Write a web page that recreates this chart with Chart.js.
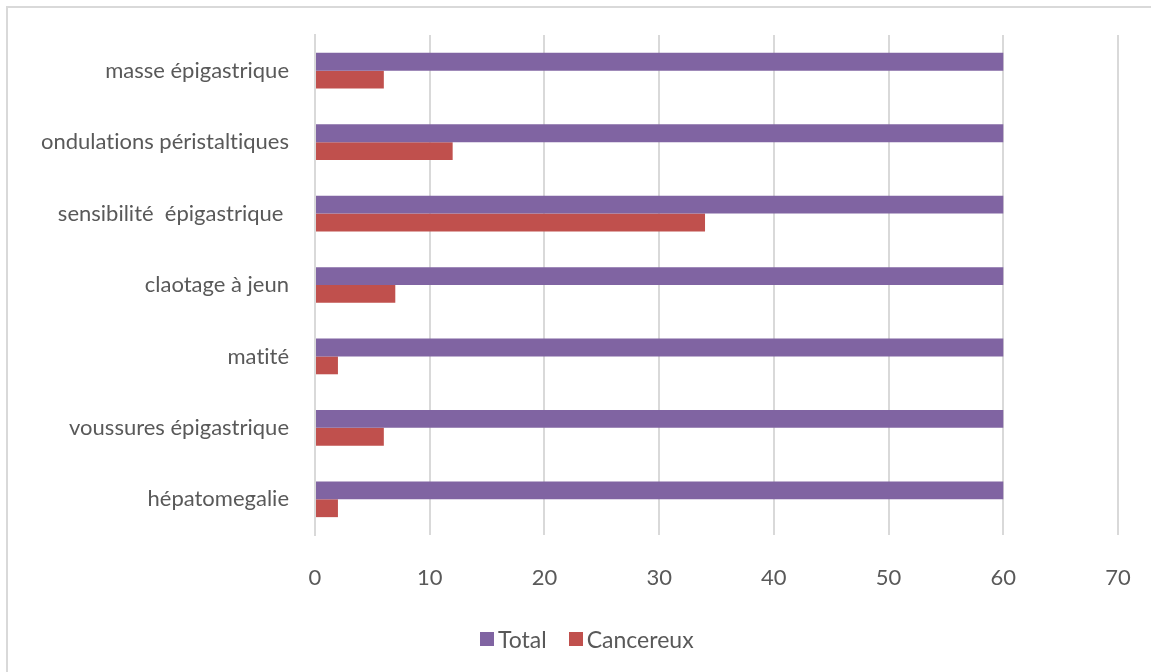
<!DOCTYPE html>
<html>
<head>
<meta charset="utf-8">
<script src="https://cdn.jsdelivr.net/npm/chart.js@4.4.1/dist/chart.umd.min.js"></script>
<style>
  html, body { margin: 0; padding: 0; background: #fff; }
  #wrap { position: relative; width: 1151px; height: 672px; overflow: hidden; }
  #frame { position: absolute; left: 6px; top: 6px; width: 1200px; height: 700px;
    border-left: 2px solid #d9d9d9; border-top: 2px solid #d9d9d9; }
  #chart { position: absolute; left: 0; top: 0; }
  #legend { position: absolute; top: 625px; left: 480px; display: flex; align-items: center;
    font-family: Lato, sans-serif; font-size: 23px; color: #595959;
    font-variant-ligatures: none; }
  .sw { width: 14px; height: 14px; display: inline-block; margin-right: 4px; }
  .item { display: flex; align-items: center; margin-right: 22px; }
</style>
</head>
<body>
<div id="wrap">
  <div id="frame"></div>
  <canvas id="chart" width="1151" height="672"></canvas>
  <div id="legend"></div>
</div>
<script>
// chart data
const categories = ['masse épigastrique', 'ondulations péristaltiques', 'sensibilité  épigastrique ',
  'claotage à jeun', 'matité', 'voussures épigastrique', 'hépatomegalie'];
const totalValues = [60, 60, 60, 60, 60, 60, 60];
const cancereuxValues = [6, 12, 34, 7, 2, 6, 2];
const xTicks = [0, 10, 20, 30, 40, 50, 60, 70];

const seriesNames = ['Total', 'Cancereux'];
const colors = ['#8064A2', '#C0504D'];

// no "ti" ligatures in canvas text
const noLigatures = {
  id: 'noLigatures',
  beforeDraw: chart => { chart.ctx.textRendering = 'optimizeSpeed'; }
};

new Chart(document.getElementById('chart'), {
  type: 'bar',
  data: {
    labels: categories,
    datasets: [
      { label: seriesNames[0], data: totalValues, backgroundColor: colors[0] },
      { label: seriesNames[1], data: cancereuxValues, backgroundColor: colors[1] }
    ]
  },
  plugins: [noLigatures],
  options: {
    indexAxis: 'y',
    responsive: false,
    animation: false,
    layout: { padding: { top: 35, right: 33, left: 0, bottom: 0 } },
    datasets: { bar: { categoryPercentage: 0.5, barPercentage: 1 } },
    plugins: {
      legend: { display: false },
      tooltip: { enabled: false }
    },
    scales: {
      x: {
        min: 0,
        max: 70,
        afterFit: s => {
          s.height = 137;
          s.paddingLeft = 0;
          s.paddingRight = 0;
        },
        afterBuildTicks: s => { s.ticks = xTicks.map(v => ({ value: v })); },
        grid: { color: '#d9d9d9', lineWidth: 2, drawTicks: false },
        border: { display: false },
        ticks: { color: '#595959', padding: 30, font: { family: 'Lato', size: 22 } }
      },
      y: {
        afterFit: s => {
          s.width = 315;
          s.paddingTop = 0;
          s.paddingBottom = 0;
        },
        grid: { display: false },
        border: { color: '#d9d9d9', width: 2 },
        ticks: { color: '#595959', padding: 18, font: { family: 'Lato', size: 22 } }
      }
    }
  }
});

// legend as html
const legend = document.getElementById('legend');
seriesNames.forEach((name, i) => {
  const item = document.createElement('span');
  item.className = 'item';
  item.innerHTML = '<span class="sw" style="background:' + colors[i] + '"></span>' + name;
  legend.appendChild(item);
});
</script>
</body>
</html>
